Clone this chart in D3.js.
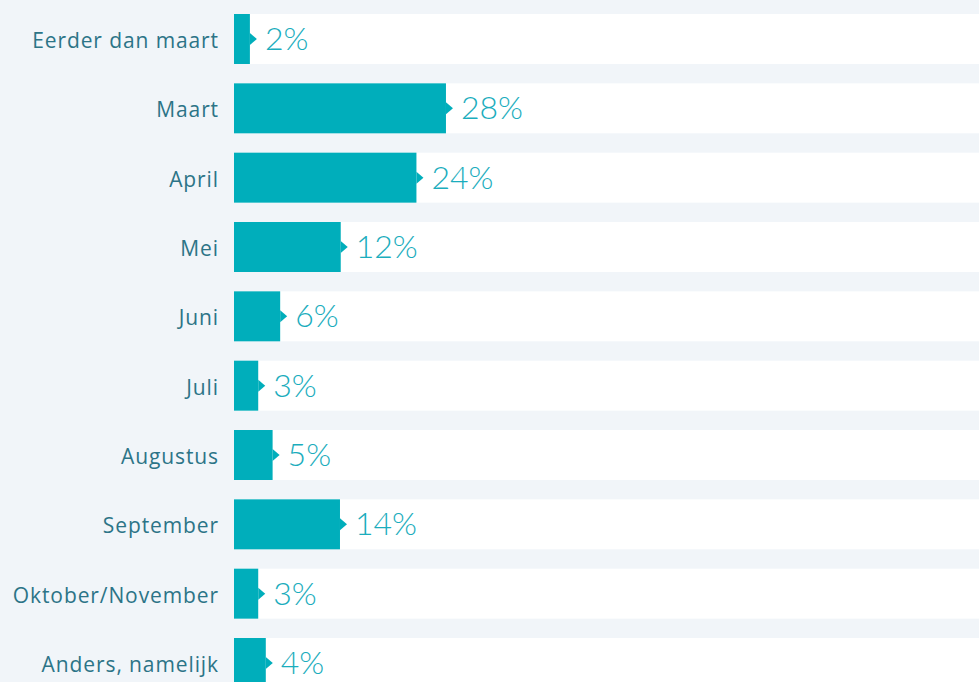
<!DOCTYPE html>
<html>
<head>
<meta charset="utf-8">
<script src="https://cdn.jsdelivr.net/npm/d3@7"></script>
<style>
  html, body { margin: 0; padding: 0; background: #f1f5f9; }
  svg { display: block; }
</style>
</head>
<body>
<svg id="drawing_region"></svg>
<script>
// categories and values (percent), label text as shown
const categories = ["Eerder dan maart", "Maart", "April", "Mei", "Juni", "Juli",
                    "Augustus", "September", "Oktober/November", "Anders, namelijk"];
const values = [2.1, 28, 24.1, 14.1, 6.1, 3.2, 5.1, 14, 3.2, 4.2];
const valueLabels = ["2%", "28%", "24%", "12%", "6%", "3%", "5%", "14%", "3%", "4%"];

const width = 979, height = 682;
const left = 234;

const svg = d3.select('#drawing_region')
    .attr('width', width)
    .attr('height', height);

const xscale = d3.scaleLinear()
    .domain([0, 100])
    .range([left, left + 757]);

const yscale = d3.scaleBand()
    .domain(categories)
    .range([14, 688])
    .paddingInner(0.279)
    .paddingOuter(0);

const rows = svg.selectAll('.row')
    .data(categories)
    .enter()
    .append('g')
    .attr('class', 'row')
    .attr('transform', d => `translate(0, ${yscale(d)})`);

const bh = yscale.bandwidth();

// white background band
rows.append('rect')
    .attr('x', left)
    .attr('width', width - left)
    .attr('height', bh)
    .attr('fill', '#ffffff');

// bar
rows.append('rect')
    .attr('x', left)
    .attr('width', (d, i) => xscale(values[i]) - left)
    .attr('height', bh)
    .attr('fill', '#00aebb');

// little arrow at the end of the bar
rows.append('path')
    .attr('d', (d, i) => {
        const xe = xscale(values[i]);
        return `M${xe},${bh / 2 - 6}L${xe + 7},${bh / 2}L${xe},${bh / 2 + 6}Z`;
    })
    .attr('fill', '#00aebb');

// value labels
rows.append('text')
    .attr('x', (d, i) => xscale(values[i]) + 15)
    .attr('y', bh / 2 + 11)
    .attr('font-family', 'Lato, sans-serif')
    .attr('font-weight', 300)
    .attr('font-size', 32)
    .attr('fill', '#1badbd')
    .text((d, i) => valueLabels[i]);

// category labels
rows.append('text')
    .attr('x', 219)
    .attr('y', bh / 2 + 9)
    .attr('text-anchor', 'end')
    .attr('font-family', '"Open Sans", sans-serif')
    .attr('font-size', 21)
    .attr('letter-spacing', 0.9)
    .attr('fill', '#2c7487')
    .text(d => d);
</script>
</body>
</html>
